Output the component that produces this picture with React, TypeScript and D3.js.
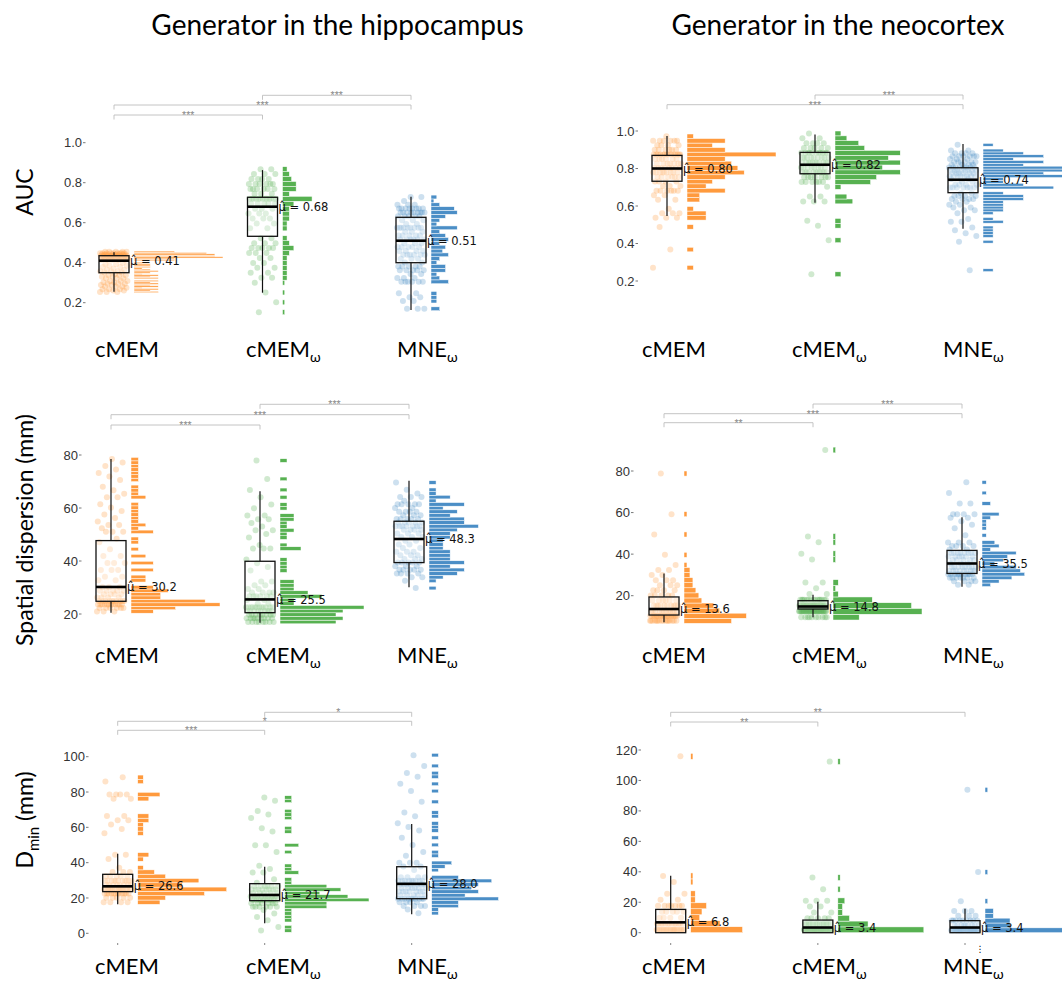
import React from 'react';
import * as d3 from 'd3';

// ---------- shared categories / colours ----------
const GROUP_BASE = ['cMEM', 'cMEM', 'MNE'];
const GROUP_SUB = ['', 'ω', 'ω'];
const COLORS = ['#ff9a3d', '#57b151', '#4b8ec6'];

// ---------- AUC, generator in the hippocampus ----------
const aucHippoMedian = [0.41, 0.68, 0.51];
// [lower whisker, q1, q3, upper whisker]
const aucHippoBox = [[0.255, 0.35, 0.435, 0.452], [0.25, 0.532, 0.727, 0.863], [0.163, 0.40, 0.627, 0.73]];
const aucHippoRange = [[0.25, 0.458], [0.14, 0.88], [0.16, 0.738]];
const aucHippoCounts = [
  [3, 2, 3, 1, 3, 2, 3, 2, 3, 0, 3, 2, 3, 1, 2, 3, 2, 1, 2, 2, 2, 1, 0, 5, 5, 11, 10, 10, 9, 5],
  [1, 0, 1, 0, 1, 0, 1, 2, 2, 2, 2, 2, 3, 5, 3, 2, 0, 2, 2, 3, 3, 3, 5, 13, 3, 6, 6, 4, 3, 2],
  [3, 0, 2, 2, 2, 0, 0, 6, 3, 2, 5, 5, 2, 3, 6, 4, 5, 3, 6, 5, 3, 9, 2, 3, 5, 9, 8, 3, 1, 2],
];
const aucHippoSig = [[0, 1, '***'], [0, 2, '***'], [1, 2, '***']];

// ---------- AUC, generator in the neocortex ----------
const aucNeoMedian = [0.80, 0.82, 0.74];
const aucNeoBox = [[0.547, 0.732, 0.870, 0.973], [0.618, 0.772, 0.886, 0.982], [0.479, 0.671, 0.804, 0.931]];
const aucNeoRange = [[0.259, 0.984], [0.223, 1.0], [0.25, 0.934]];
const aucNeoCounts = [
  [1, 0, 0, 0, 1, 0, 0, 0, 0, 1, 0, 3, 3, 1, 0, 2, 2, 6, 3, 4, 6, 9, 8, 7, 6, 14, 6, 4, 6, 1],
  [1, 0, 0, 0, 0, 0, 0, 1, 0, 0, 1, 1, 0, 0, 0, 3, 2, 0, 1, 6, 7, 11, 8, 11, 9, 11, 5, 4, 2, 1],
  [1, 0, 0, 0, 0, 0, 0, 0, 0, 0, 1, 0, 1, 1, 1, 1, 0, 2, 1, 0, 1, 2, 2, 2, 2, 4, 4, 2, 0, 7,
    4, 2, 2, 8, 6, 8, 8, 4, 6, 3, 6, 4, 2, 0, 1],
];
const aucNeoSig = [[1, 2, '***'], [0, 2, '***']];

// ---------- spatial dispersion, hippocampus ----------
const sdHippoMedian = [30.2, 25.5, 48.3];
const sdHippoBox = [[20.5, 24.8, 47.7, 78.5], [16.7, 20.5, 39.9, 66.3], [30.1, 39.4, 55.0, 70.3]];
const sdHippoRange = [[20.3, 79.1], [16.3, 78.6], [29.1, 70.3]];
const sdHippoCounts = [
  [3, 6, 12, 10, 4, 4, 5, 3, 0, 2, 2, 0, 3, 0, 3, 0, 2, 0, 1, 0, 1, 1, 0, 3, 1, 2, 1, 1, 1, 1,
    1, 1, 0, 2, 1, 1, 1, 0, 1, 1, 1, 1, 1, 1, 1],
  [8, 9, 8, 9, 12, 2, 2, 6, 4, 2, 2, 2, 0, 0, 1, 1, 1, 1, 0, 0, 3, 1, 0, 1, 1, 2, 1, 1, 2, 2,
    0, 1, 1, 0, 1, 0, 1, 0, 0, 1, 0, 0, 0, 0, 1],
  [1, 0, 1, 2, 4, 5, 3, 5, 3, 3, 3, 2, 2, 2, 3, 3, 4, 7, 5, 5, 3, 4, 2, 5, 1, 3, 1, 1, 0, 1],
];
const sdHippoSig = [[0, 1, '***'], [0, 2, '***'], [1, 2, '***']];

// ---------- spatial dispersion, neocortex ----------
const sdNeoMedian = [13.6, 14.8, 35.5];
const sdNeoBox = [[7.2, 10.7, 19.4, 30.7], [9.6, 13.6, 17.6, 20.5], [24.3, 30.7, 41.8, 57.7]];
const sdNeoRange = [[6.7, 80], [8.3, 91.5], [24.4, 75.4]];
const sdNeoCounts = [
  [16, 21, 12, 10, 6, 5, 4, 3, 3, 2, 2, 1, 0, 1, 0, 0, 0, 1, 0, 0, 0, 1, 0, 0, 0, 0, 0, 0, 0, 1],
  [10, 34, 30, 15, 2, 1, 2, 0, 0, 0, 1, 1, 0, 1, 1, 0, 0, 0, 0, 0, 0, 0, 0, 0, 0, 0, 0, 0, 0, 1],
  [2, 4, 7, 10, 9, 8, 3, 5, 6, 8, 2, 4, 3, 0, 1, 0, 1, 1, 1, 2, 4, 0, 0, 2, 0, 0, 1, 0, 0, 1],
];
const sdNeoSig = [[0, 1, '**'], [0, 2, '***'], [1, 2, '***']];

// ---------- D_min, hippocampus ----------
const dminHippoMedian = [26.6, 21.7, 28.0];
const dminHippoBox = [[16.4, 23.6, 33.4, 45.1], [5.7, 18.5, 28.1, 37.7], [10.8, 19.6, 37.7, 61.9]];
const dminHippoRange = [[16.4, 89.6], [0.6, 77.9], [10.4, 101.9]];
const dminHippoCounts = [
  [4, 5, 12, 16, 8, 11, 5, 3, 1, 0, 1, 2, 0, 0, 0, 0, 1, 1, 1, 2, 2, 0, 0, 0, 2, 4, 0, 0, 1, 1],
  [1, 1, 0, 1, 1, 1, 1, 6, 6, 12, 9, 5, 8, 6, 1, 1, 0, 2, 1, 1, 0, 0, 0, 1, 0, 2, 0, 0, 0, 1,
    1, 0, 0, 1, 1, 1, 0, 0, 1, 1],
  [1, 1, 4, 4, 10, 5, 7, 6, 7, 9, 4, 0, 1, 2, 3, 0, 1, 1, 0, 1, 0, 1, 0, 1, 1, 1, 0, 1, 1, 0,
    0, 1, 0, 0, 1, 0, 1, 0, 1, 1, 0, 1, 0, 0, 1],
];
const dminHippoSig = [[0, 1, '***'], [0, 2, '*'], [1, 2, '*']];

// ---------- D_min, neocortex ----------
const dminNeoMedian = [6.8, 3.4, 3.4];
const dminNeoBox = [[0, 0, 15.3, 37.4], [0, 0, 8.3, 20.4], [0, 0, 7.9, 15.8]];
const dminNeoRange = [[0, 117.8], [0, 114.3], [0, 95.5]];
const dminNeoCounts = [
  [23, 13, 4, 5, 7, 2, 2, 0, 1, 1, 0, 0, 0, 0, 0, 0, 0, 0, 0, 0, 0, 0, 0, 0, 0, 0, 0, 0, 0, 1],
  [37, 13, 5, 2, 2, 3, 0, 1, 0, 1, 0, 0, 0, 0, 0, 0, 0, 0, 0, 0, 0, 0, 0, 0, 0, 0, 0, 0, 0, 1],
  [32, 9, 9, 3, 3, 0, 1, 0, 0, 0, 0, 0, 1, 0, 0, 0, 0, 0, 0, 0, 0, 0, 0, 0, 0, 0, 0, 0, 0, 1],
];
const dminNeoSig = [[0, 1, '**'], [0, 2, '**']];

// ---------- tick values ----------
const aucTicks = [0.2, 0.4, 0.6, 0.8, 1.0];
const sdTicks = [20, 40, 60, 80];
const dminHippoTicks = [0, 20, 40, 60, 80, 100];
const dminNeoTicks = [0, 20, 40, 60, 80, 100, 120];

type Panel = {
  medians: number[];
  boxes: number[][];
  ranges: number[][];
  counts: number[][];
  sig: (string | number)[][];
  ticks: number[];
  tickFmt: string;
  medFmt: string;
  yDomain: [number, number];
  yRange: [number, number];
  xRange: [number, number];
  axisX: number;
  sigY: number[];
  xTickY?: number;
};

const HIST_GAP = 20;
const HIST_MAX = 89;
const BOX_HALF = 15;
const JITTER = 14;

function PanelView({ p }: { p: Panel }) {
  const y = d3.scaleLinear().domain(p.yDomain).range(p.yRange);
  const x = d3.scalePoint<number>().domain([0, 1, 2]).range(p.xRange);
  const tf = d3.format(p.tickFmt);
  const mf = d3.format(p.medFmt);

  // histogram bins per group (density-scaled so groups with different bin widths compare)
  const bins = p.counts.map((cs, g) => {
    const [lo, hi] = p.ranges[g];
    const w = (hi - lo) / cs.length;
    return cs.map((c, k) => ({ x0: lo + k * w, x1: lo + (k + 1) * w, c, dens: c / w }));
  });
  const maxDens = d3.max(bins.flat(), (b) => b.dens) || 1;
  const len = d3.scaleLinear().domain([0, maxDens]).range([0, HIST_MAX]);

  return (
    <g>
      {/* y axis ticks and labels */}
      {p.ticks.map((t) => (
        <g key={t} transform={`translate(${p.axisX},${y(t)})`}>
          <line x1={-2.5} x2={0} stroke="#555" strokeWidth={0.8} />
          <text x={-3.5} dy="0.35em" textAnchor="end" fontSize={13}
            fontFamily="'Liberation Sans', Arial, sans-serif" fill="#333">{tf(t)}</text>
        </g>
      ))}
      {p.xTickY !== undefined && [0, 1, 2].map((g) => (
        <line key={g} x1={x(g)} x2={x(g)} y1={p.xTickY} y2={(p.xTickY as number) + 2}
          stroke="#666" strokeWidth={0.8} />
      ))}

      {[0, 1, 2].map((g) => {
        const cx = x(g) as number;
        const col = COLORS[g];
        const [wl, q1, q3, wh] = p.boxes[g];
        // jittered observations, one per counted value in each bin
        const pts: { v: number; j: number }[] = [];
        let idx = 0;
        bins[g].forEach((b) => {
          for (let i = 0; i < b.c; i++) {
            const f = (idx * 0.6180339887 + 0.37 * g) % 1;
            pts.push({ v: (b.x0 + b.x1) / 2, j: (f * 2 - 1) * JITTER });
            idx++;
          }
        });
        return (
          <g key={g}>
            {pts.map((d, i) => (
              <circle key={i} cx={cx + d.j} cy={y(d.v)} r={3} fill={col} fillOpacity={0.28} />
            ))}
            <line x1={cx} x2={cx} y1={y(wl)} y2={y(q1)} stroke="#111" strokeWidth={1.2} />
            <line x1={cx} x2={cx} y1={y(q3)} y2={y(wh)} stroke="#111" strokeWidth={1.2} />
            <rect x={cx - BOX_HALF} width={BOX_HALF * 2} y={y(q3)} height={y(q1) - y(q3)}
              fill="#fff" fillOpacity={0.35} stroke="#111" strokeWidth={1.3} />
            <line x1={cx - BOX_HALF} x2={cx + BOX_HALF} y1={y(p.medians[g])} y2={y(p.medians[g])}
              stroke="#000" strokeWidth={2.6} />
            {bins[g].filter((b) => b.c > 0).map((b, i) => (
              <rect key={i} x={cx + HIST_GAP} width={len(b.dens)} y={y(b.x1)}
                height={Math.abs(y(b.x0) - y(b.x1))} fill={col} stroke="#fff" strokeWidth={0.5} />
            ))}
            <text x={cx + BOX_HALF + 1} y={y(p.medians[g])} dy="0.36em" fontSize={11.5}
              fontFamily="'DejaVu Sans', 'Liberation Sans', sans-serif" fill="#111">
              {`\u03BC\u0302 = ${mf(p.medians[g])}`}
            </text>
          </g>
        );
      })}

      {/* pairwise significance brackets */}
      {p.sig.map((s, i) => {
        const a = x(s[0] as number) as number;
        const b = x(s[1] as number) as number;
        const yy = p.sigY[i];
        return (
          <g key={i}>
            <path d={`M${a},${yy + 4.5}V${yy}H${b}V${yy + 4.5}`} fill="none" stroke="#bdbdbd" strokeWidth={0.9} />
            <text x={(a + b) / 2} y={yy + 4} textAnchor="middle" fontSize={10.5}
              fontFamily="'Liberation Sans', Arial, sans-serif" fill="#888">{s[2] as string}</text>
          </g>
        );
      })}
    </g>
  );
}

const panels: Panel[] = [
  {
    medians: aucHippoMedian, boxes: aucHippoBox, ranges: aucHippoRange, counts: aucHippoCounts,
    sig: aucHippoSig, ticks: aucTicks, tickFmt: '.1f', medFmt: '.2f',
    yDomain: [0.2, 1.0], yRange: [302.7, 142.7], xRange: [114, 411], axisX: 85.5, sigY: [115, 105, 95.3],
  },
  {
    medians: aucNeoMedian, boxes: aucNeoBox, ranges: aucNeoRange, counts: aucNeoCounts,
    sig: aucNeoSig, ticks: aucTicks, tickFmt: '.1f', medFmt: '.2f',
    yDomain: [0.2, 1.0], yRange: [281, 131], xRange: [667, 963], axisX: 638, sigY: [95, 104.7],
  },
  {
    medians: sdHippoMedian, boxes: sdHippoBox, ranges: sdHippoRange, counts: sdHippoCounts,
    sig: sdHippoSig, ticks: sdTicks, tickFmt: 'd', medFmt: '.1f',
    yDomain: [20, 80], yRange: [614, 455], xRange: [111, 409], axisX: 81.5, sigY: [425, 414.7, 404.3],
  },
  {
    medians: sdNeoMedian, boxes: sdNeoBox, ranges: sdNeoRange, counts: sdNeoCounts,
    sig: sdNeoSig, ticks: sdTicks, tickFmt: 'd', medFmt: '.1f',
    yDomain: [20, 80], yRange: [595.7, 471], xRange: [664, 962], axisX: 633.5, sigY: [422.7, 413.7, 404],
  },
  {
    medians: dminHippoMedian, boxes: dminHippoBox, ranges: dminHippoRange, counts: dminHippoCounts,
    sig: dminHippoSig, ticks: dminHippoTicks, tickFmt: 'd', medFmt: '.1f',
    yDomain: [0, 100], yRange: [933.3, 756.7], xRange: [117.7, 411.7], axisX: 88.5, sigY: [730.3, 721.3, 712.3],
    xTickY: 943,
  },
  {
    medians: dminNeoMedian, boxes: dminNeoBox, ranges: dminNeoRange, counts: dminNeoCounts,
    sig: dminNeoSig, ticks: dminNeoTicks, tickFmt: 'd', medFmt: '.1f',
    yDomain: [0, 120], yRange: [932.7, 750], xRange: [670.7, 965], axisX: 641, sigY: [722, 712.3],
    xTickY: 943,
  },
];

const TITLE_FONT = "Lato, 'Open Sans', sans-serif";
const labelStartX = [[95, 246, 397], [642, 792, 943]];
const rowBaseline = [357, 663, 974];

function GroupLabel({ x, y, g }: { x: number; y: number; g: number }) {
  return (
    <text x={x} y={y} fontSize={22} fontFamily={TITLE_FONT} fill="#000">
      {GROUP_BASE[g]}
      {GROUP_SUB[g] && <tspan dy={5} fontSize={14}>{GROUP_SUB[g]}</tspan>}
    </text>
  );
}

export default function App() {
  return (
    <svg width={1062} height={982} style={{ position: 'absolute', left: 0, top: 0, background: '#fff' }}>
      <rect width={1062} height={982} fill="#fff" />
      <text x={337.5} y={35} textAnchor="middle" fontSize={28} fontFamily={TITLE_FONT}>Generator in the hippocampus</text>
      <text x={838} y={35} textAnchor="middle" fontSize={28} fontFamily={TITLE_FONT}>Generator in the neocortex</text>

      <text transform="translate(33,192) rotate(-90)" textAnchor="middle" fontSize={23} fontFamily={TITLE_FONT}>AUC</text>
      <text transform="translate(33,530) rotate(-90)" textAnchor="middle" fontSize={23} fontFamily={TITLE_FONT}>Spatial dispersion (mm)</text>
      <text transform="translate(33,820) rotate(-90)" textAnchor="middle" fontSize={23} fontFamily={TITLE_FONT}>
        D<tspan dy={6} fontSize={15}>min</tspan><tspan dy={-6}> (mm)</tspan>
      </text>

      {panels.map((p, i) => <PanelView key={i} p={p} />)}

      {rowBaseline.map((yb, r) => labelStartX.map((xs, c) => xs.map((xx, g) => (
        <GroupLabel key={`${r}-${c}-${g}`} x={xx} y={yb} g={g} />
      ))))}

      <text x={980} y={952} textAnchor="middle" fontSize={9} fontFamily="'DejaVu Sans', sans-serif">⋮</text>
    </svg>
  );
}
